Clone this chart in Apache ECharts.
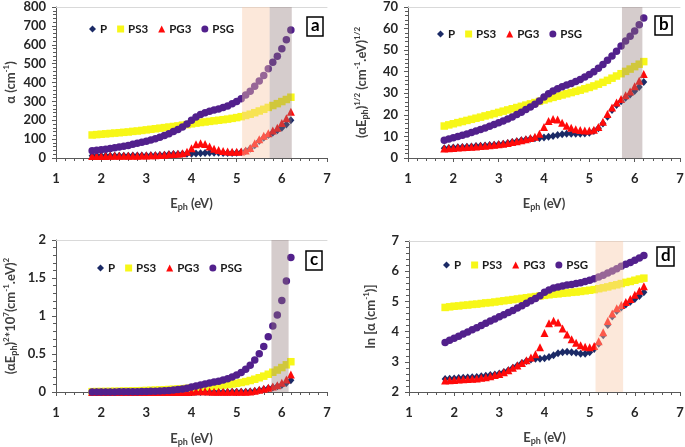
<!DOCTYPE html>
<html>
<head>
<meta charset="utf-8">
<script src="https://cdn.jsdelivr.net/npm/echarts@6/dist/echarts.min.js"></script>
<style>
html,body{margin:0;padding:0;background:#fff;}
#chart{width:685px;height:447px;}
</style>
</head>
<body>
<div id="chart"></div>
<script>
// ---- data ----
var energy = [1.8,1.9,2.0,2.1,2.2,2.3,2.4,2.5,2.6,2.7,2.8,2.9,3.0,3.1,3.2,3.3,3.4,3.5,3.6,3.7,3.8,3.9,4.0,4.1,4.2,4.3,4.4,4.5,4.6,4.7,4.8,4.9,5.0,5.1,5.2,5.3,5.4,5.5,5.6,5.7,5.8,5.9,6.0,6.1,6.2];

// (a) alpha (cm^-1)
var aP   = [11.4,11.5,11.6,11.7,11.8,11.9,12.1,12.2,12.4,12.7,12.9,13.2,13.6,14.3,15.2,16.4,17.8,19.3,20.7,21.8,22.2,22.2,22.7,23.6,25.0,26.6,27.7,27.9,27.7,27.1,26.3,26.3,27.7,30.6,36.6,48.4,68.0,90.0,107.8,121.5,134.3,146.9,160.8,177.7,200.3];
var aPS3 = [122,124,126,128,130,132,134,136,138,141,143,146,149,152,155,158,161,164,167,170,174,177,181,185,188,191,194,197,200,203,206,210,214,219,225,232,240,249,258,268,278,288,299,310,322];
var aPG3 = [10.8,10.9,11.0,11.1,11.3,11.4,11.5,11.6,11.8,12.1,12.4,12.9,13.5,14.2,15.2,16.4,17.8,19.3,21.1,23.1,25.8,32.5,51.9,72.2,78.3,73.7,60.3,49.4,42.5,37.7,34.8,33.1,32.5,33.8,39.7,53.5,77.5,99.5,117.9,131.6,145.5,160.8,184.9,210.6,244.7];
var aPSG = [38.1,40.9,43.8,47.0,50.4,54.1,58.0,62.2,66.7,72.2,77.5,83.1,89.1,95.6,102.5,109.9,119.1,129.0,139.8,151.4,164.0,179.5,200.3,217.0,230.4,239.8,247.2,254.7,259.8,267.7,275.9,287.1,298.9,314.2,333.6,354.3,379.9,407.5,437.1,473.4,507.8,539.1,578.2,626.4,678.5];

// (b) (alpha*E)^1/2
var bP   = [4.52,4.67,4.81,4.96,5.10,5.24,5.38,5.52,5.69,5.85,6.02,6.19,6.39,6.66,6.97,7.37,7.78,8.22,8.63,8.97,9.18,9.30,9.52,9.83,10.25,10.69,11.03,11.21,11.28,11.29,11.24,11.35,11.76,12.49,13.80,16.02,19.17,22.25,24.57,26.32,27.91,29.44,31.06,32.92,35.24];
var bPS3 = [14.82,15.35,15.87,16.40,16.91,17.42,17.93,18.44,18.94,19.51,20.01,20.58,21.14,21.71,22.27,22.83,23.40,23.96,24.52,25.08,25.71,26.27,26.91,27.54,28.10,28.66,29.22,29.77,30.33,30.89,31.45,32.08,32.71,33.42,34.21,35.07,36.00,37.01,38.01,39.08,40.15,41.22,42.36,43.49,44.68];
var bPG3 = [4.41,4.55,4.69,4.83,4.97,5.11,5.25,5.38,5.54,5.71,5.90,6.13,6.35,6.62,6.97,7.37,7.78,8.22,8.72,9.24,9.90,11.25,14.41,17.21,18.13,17.80,16.29,14.91,13.99,13.31,12.93,12.74,12.74,13.13,14.36,16.84,20.45,23.39,25.69,27.39,29.05,30.80,33.30,35.85,38.95];
var bPSG = [8.28,8.81,9.36,9.93,10.53,11.15,11.79,12.47,13.17,13.96,14.73,15.52,16.35,17.21,18.11,19.04,20.12,21.25,22.43,23.67,24.96,26.46,28.31,29.83,31.11,32.11,32.98,33.86,34.57,35.47,36.39,37.51,38.66,40.03,41.65,43.33,45.29,47.34,49.48,51.95,54.27,56.40,58.90,61.81,64.86];

// (c) (alpha*E)^2 * 1e-7
var cP   = [0.00004,0.00005,0.00005,0.00006,0.00007,0.00008,0.00008,0.00009,0.0001,0.00012,0.00013,0.00015,0.00017,0.0002,0.00024,0.00029,0.00037,0.00046,0.00056,0.00065,0.00071,0.00075,0.00082,0.00093,0.0011,0.0013,0.0015,0.0016,0.0016,0.0016,0.0016,0.0017,0.0019,0.0024,0.0036,0.0066,0.0135,0.0245,0.0364,0.048,0.0607,0.0751,0.0931,0.1175,0.1543];
var cPS3 = [0.0048,0.0056,0.0064,0.0072,0.0082,0.0092,0.0103,0.0116,0.0129,0.0145,0.016,0.0179,0.02,0.0222,0.0246,0.0272,0.03,0.0329,0.0361,0.0396,0.0437,0.0477,0.0524,0.0575,0.0623,0.0675,0.0729,0.0786,0.0846,0.091,0.0978,0.1059,0.1145,0.1247,0.1369,0.1512,0.168,0.1876,0.2087,0.2334,0.26,0.2887,0.3218,0.3576,0.3986];
var cPG3 = [0.00004,0.00004,0.00005,0.00005,0.00006,0.00007,0.00008,0.00008,0.00009,0.00011,0.00012,0.00014,0.00016,0.00019,0.00024,0.00029,0.00037,0.00046,0.00058,0.00073,0.00096,0.0016,0.0043,0.0088,0.0108,0.01,0.007,0.0049,0.0038,0.0031,0.0028,0.0026,0.0026,0.003,0.0043,0.008,0.0175,0.0299,0.0436,0.0563,0.0712,0.09,0.123,0.1651,0.2301];
var cPSG = [0.00047,0.0006,0.00077,0.00097,0.0012,0.0015,0.0019,0.0024,0.003,0.0038,0.0047,0.0058,0.0072,0.0088,0.0108,0.0132,0.0164,0.0204,0.0253,0.0314,0.0388,0.049,0.0642,0.0792,0.0936,0.1063,0.1183,0.1314,0.1428,0.1583,0.1754,0.1979,0.2234,0.2568,0.3009,0.3526,0.4209,0.5023,0.5992,0.7281,0.8674,1.0117,1.2035,1.46,1.7696];

// (d) ln(alpha)
var dP   = [2.43,2.44,2.45,2.46,2.47,2.48,2.49,2.50,2.52,2.54,2.56,2.58,2.61,2.66,2.72,2.80,2.88,2.96,3.03,3.08,3.10,3.10,3.12,3.16,3.22,3.28,3.32,3.33,3.32,3.30,3.27,3.27,3.32,3.42,3.60,3.88,4.22,4.50,4.68,4.80,4.90,4.99,5.08,5.18,5.30];
var dPS3 = [4.80,4.82,4.84,4.85,4.87,4.88,4.90,4.91,4.93,4.95,4.96,4.98,5.00,5.02,5.04,5.06,5.08,5.10,5.12,5.14,5.16,5.18,5.20,5.22,5.24,5.25,5.27,5.28,5.30,5.31,5.33,5.35,5.37,5.39,5.42,5.45,5.48,5.52,5.55,5.59,5.63,5.66,5.70,5.74,5.77];
var dPG3 = [2.38,2.39,2.40,2.41,2.42,2.43,2.44,2.45,2.47,2.49,2.52,2.56,2.60,2.65,2.72,2.80,2.88,2.96,3.05,3.14,3.25,3.48,3.95,4.28,4.36,4.30,4.10,3.90,3.75,3.63,3.55,3.50,3.48,3.52,3.68,3.98,4.35,4.60,4.77,4.88,4.98,5.08,5.22,5.35,5.50];
var dPSG = [3.64,3.71,3.78,3.85,3.92,3.99,4.06,4.13,4.20,4.28,4.35,4.42,4.49,4.56,4.63,4.70,4.78,4.86,4.94,5.02,5.10,5.19,5.30,5.38,5.44,5.48,5.51,5.54,5.56,5.59,5.62,5.66,5.70,5.75,5.81,5.87,5.94,6.01,6.08,6.16,6.23,6.29,6.36,6.44,6.52];

// shaded energy ranges (eV) per panel: [from, to, kind]
var shadeA = [[5.12, 5.73, 'orange'], [5.73, 6.22, 'gray']];
var shadeB = [[5.72, 6.17, 'gray']];
var shadeC = [[5.77, 6.15, 'gray']];
var shadeD = [[5.13, 5.74, 'orange']];

var seriesNames = ['P', 'PS3', 'PG3', 'PSG'];
var panelLetters = ['a', 'b', 'c', 'd'];
var xTicks = {min: 1, max: 7, interval: 1};

// ---- styling ----
var FONT = 'Lato';
var colors = {P: '#1b2a66', PS3: '#f7f718', PG3: '#ff0a0a', PSG: '#52208c'};
var symbols = {P: 'diamond', PS3: 'rect', PG3: 'triangle', PSG: 'circle'};
var sizes = {P: [7, 8], PS3: 7.5, PG3: 8, PSG: 7.5};
var shadeColors = {orange: 'rgba(248,200,168,0.42)', gray: 'rgba(145,120,120,0.38)'};

var rich = {
  sup: {fontSize: 8, fontWeight: 'bold', fontFamily: FONT, color: '#404040', verticalAlign: 'top', lineHeight: 17},
  sub: {fontSize: 9, fontWeight: 'bold', fontFamily: FONT, color: '#404040', verticalAlign: 'bottom', lineHeight: 17},
  n: {fontSize: 13, fontWeight: 'bold', fontFamily: FONT, color: '#404040', lineHeight: 17}
};
function nameStyle() {
  return {fontFamily: FONT, fontWeight: 'bold', fontSize: 13, color: '#404040', lineHeight: 17, rich: rich};
}

var grids = [
  {left: 56, top: 7, width: 271, height: 151},
  {left: 408, top: 7, width: 272, height: 151},
  {left: 56, top: 240, width: 271, height: 152},
  {left: 409, top: 241, width: 271, height: 151}
];
grids.forEach(function (g) { g.containLabel = false; g.outerBoundsMode = 'none'; });

var yDefs = [
  {min: 0, max: 800, interval: 100, name: '{n|α (cm}{sup|-1}{n|)}', gap: 36},
  {min: 0, max: 70, interval: 10, name: '{n|(αE}{sub|ph}{n|)}{sup|1/2}{n| (cm}{sup|-1}{n|.eV)}{sup|1/2}', gap: 38},
  {min: 0, max: 2, interval: 0.5, name: '{n|(αE}{sub|ph}{n|)}{sup|2}{n|*10}{sup|7}{n|(cm}{sup|-1}{n|.eV)}{sup|2}', gap: 37},
  {min: 2, max: 7, interval: 1, name: '{n|ln [α (cm}{sup|-1}{n|)]}', gap: 30}
];
var xNameGaps = [37, 37, 38, 37];

var axisLine = {show: true, lineStyle: {color: '#595959', width: 1}};
var axisLabel = {fontFamily: FONT, fontWeight: 'bold', fontSize: 13, color: '#262626'};

var xAxes = grids.map(function (g, i) {
  return {
    type: 'value', gridIndex: i, min: xTicks.min, max: xTicks.max, interval: xTicks.interval,
    axisLine: axisLine, axisTick: {show: true, length: 4, lineStyle: {color: '#595959'}},
    minorTick: {show: true, splitNumber: 5, length: 3, lineStyle: {color: '#595959'}},
    splitLine: {show: false}, minorSplitLine: {show: false},
    axisLabel: Object.assign({margin: 14}, axisLabel),
    name: '{n|E}{sub|ph}{n| (eV)}', nameLocation: 'middle', nameGap: xNameGaps[i], nameTextStyle: nameStyle()
  };
});
// faint top border of each plot area
var topAxes = grids.map(function (g, i) {
  return {
    type: 'value', gridIndex: i, position: 'top', min: xTicks.min, max: xTicks.max,
    axisLine: {show: true, lineStyle: {color: '#d9d9d9', width: 1}},
    axisTick: {show: false}, axisLabel: {show: false}, splitLine: {show: false}
  };
});
var yAxes = yDefs.map(function (d, i) {
  return {
    type: 'value', gridIndex: i, min: d.min, max: d.max, interval: d.interval,
    axisLine: axisLine, axisTick: {show: true, length: 4, lineStyle: {color: '#595959'}},
    minorTick: {show: true, splitNumber: 5, length: 3, lineStyle: {color: '#595959'}},
    splitLine: {show: false}, minorSplitLine: {show: false},
    axisLabel: Object.assign({margin: 10}, axisLabel),
    name: d.name, nameLocation: 'middle', nameGap: d.gap, nameRotate: 90, nameTextStyle: nameStyle()
  };
});

var panelData = [
  {P: aP, PS3: aPS3, PG3: aPG3, PSG: aPSG},
  {P: bP, PS3: bPS3, PG3: bPG3, PSG: bPSG},
  {P: cP, PS3: cPS3, PG3: cPG3, PSG: cPSG},
  {P: dP, PS3: dPS3, PG3: dPG3, PSG: dPSG}
];
var shades = [shadeA, shadeB, shadeC, shadeD];

var series = [];
panelData.forEach(function (pd, i) {
  seriesNames.forEach(function (nm) {
    series.push({
      name: nm, type: 'scatter', xAxisIndex: i, yAxisIndex: i,
      symbol: symbols[nm], symbolSize: sizes[nm],
      itemStyle: {color: colors[nm], opacity: 1},
      data: energy.map(function (e, k) { return [e, pd[nm][k]]; }),
      silent: true, z: 2
    });
  });
  series.push({
    type: 'custom', xAxisIndex: i, yAxisIndex: i, z: 10, silent: true,
    encode: {x: [0, 1]},
    data: shades[i].map(function (s) { return {value: [s[0], s[1]], itemStyle: {color: shadeColors[s[2]]}}; }),
    renderItem: function (params, api) {
      var cs = params.coordSys;
      var x0 = api.coord([api.value(0), yDefs[i].min])[0];
      var x1 = api.coord([api.value(1), yDefs[i].min])[0];
      return {type: 'rect', shape: {x: x0, y: cs.y, width: x1 - x0, height: cs.height},
              style: {fill: api.visual('color')}};
    }
  });
});

var legendPos = [
  {left: 84, top: 18}, {left: 432, top: 23}, {left: 92, top: 257}, {left: 438, top: 254}
];
var legends = legendPos.map(function (p) {
  return {
    left: p.left, top: p.top, orient: 'horizontal', itemGap: 10, itemWidth: 7, itemHeight: 7,
    data: seriesNames.map(function (nm) { return {name: nm, icon: symbols[nm]}; }),
    textStyle: {fontFamily: FONT, fontWeight: 'bold', fontSize: 11.5, color: '#1a1a1a', padding: [0, 0, 0, -1]},
    selectedMode: false
  };
});

var titlePos = [
  {left: 307, top: 17}, {left: 655, top: 16}, {left: 306, top: 251}, {left: 657, top: 247}
];
var titles = titlePos.map(function (p, i) {
  return {
    text: panelLetters[i], left: p.left, top: p.top,
    borderColor: '#000', borderWidth: 1.5, padding: [0, 4, 1, 4],
    textStyle: {fontFamily: FONT, fontWeight: 'bold', fontSize: 17, color: '#000', lineHeight: 18}
  };
});

var chart = echarts.init(document.getElementById('chart'), null, {renderer: 'canvas'});
chart.setOption({
  animation: false,
  backgroundColor: '#ffffff',
  title: titles,
  legend: legends,
  grid: grids,
  xAxis: xAxes.concat(topAxes),
  yAxis: yAxes,
  series: series
});
</script>
</body>
</html>
